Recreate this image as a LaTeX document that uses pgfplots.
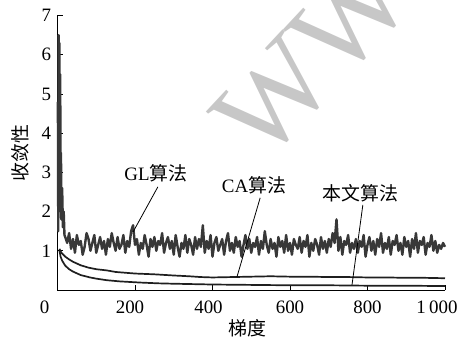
\documentclass[border=0pt]{standalone}
\usepackage{pgfplots}
\pgfplotsset{compat=1.18}
\usepackage{pgfplotstable}
\usepackage{fontspec}
\setmainfont{Liberation Serif}
\newfontfamily\cjk{Noto Sans CJK SC}

\pgfplotstableread{
x y
1 4.8
2 1.5
3 6.5
4 2.0
5 6.3
6 2.5
7 5.5
8 2.0
9 3.5
10 1.8
12 2.6
14 1.6
16 2.0
18 1.4
20 1.35
25 1.20
30 1.45
35 1.05
40 1.30
45 0.95
50 1.40
55 1.15
60 1.25
65 0.90
70 1.10
75 1.45
80 1.30
85 1.00
90 1.20
95 1.40
100 0.95
105 1.15
110 1.35
115 1.05
120 1.25
125 0.90
130 1.30
135 1.10
140 1.45
145 1.20
150 1.00
155 1.35
160 1.05
165 1.15
170 1.40
175 0.95
180 1.25
185 1.10
190 1.50
195 1.65
200 1.15
205 1.30
210 0.90
215 1.20
220 1.05
225 1.40
230 1.15
235 0.85
240 1.30
245 1.10
250 1.35
255 1.00
260 1.25
265 1.15
270 1.45
275 0.95
280 1.20
285 1.35
290 1.05
295 1.25
300 0.90
305 1.40
310 1.10
315 0.85
320 1.20
325 1.05
330 1.40
335 0.95
340 1.30
345 1.15
350 0.90
355 1.35
360 1.05
365 1.30
370 1.10
375 1.65
380 0.95
385 1.25
390 1.05
395 1.40
400 0.85
405 1.20
410 1.35
415 1.00
420 1.15
425 1.30
430 0.90
435 1.25
440 1.45
445 1.00
450 1.20
455 0.95
460 1.35
465 1.10
470 1.25
475 0.85
480 1.15
485 1.40
490 1.05
495 1.30
500 0.95
505 1.20
510 1.10
515 1.35
520 0.90
525 1.25
530 1.05
535 1.50
540 1.15
545 0.95
550 1.30
555 1.05
560 1.20
565 0.85
570 1.35
575 1.10
580 1.25
585 0.95
590 1.40
595 1.00
600 1.20
605 0.90
610 1.30
615 1.15
620 1.05
625 1.35
630 0.95
635 1.25
640 1.10
645 1.40
650 0.85
655 1.20
660 1.00
665 1.30
670 1.15
675 0.90
680 1.35
685 1.05
690 1.25
695 0.95
700 1.30
705 1.10
710 1.45
715 1.20
720 1.80
725 1.00
730 1.35
735 0.90
740 1.25
745 1.15
750 1.40
755 0.95
760 1.20
765 1.05
770 1.30
775 0.95
780 1.25
785 1.10
790 1.40
795 0.85
800 1.15
805 1.35
810 1.00
815 1.25
820 0.90
825 1.30
830 1.10
835 1.45
840 0.95
845 1.20
850 1.05
855 1.35
860 0.90
865 1.25
870 1.15
875 1.40
880 1.00
885 1.20
890 0.90
895 1.35
900 1.10
905 1.25
910 0.85
915 1.30
920 1.05
925 1.45
930 0.95
935 1.25
940 1.15
945 1.35
950 0.90
955 1.20
960 1.10
965 1.40
970 1.00
975 1.25
980 0.95
985 1.15
990 1.05
995 1.20
1000 1.10
}\GLdata

\pgfplotstableread{
x y
5 1.05
10 0.95
15 0.90
20 0.85
30 0.78
40 0.72
60 0.63
80 0.57
100 0.53
127 0.50
150 0.46
200 0.42
250 0.40
300 0.37
340 0.35
370 0.33
400 0.32
450 0.33
500 0.34
550 0.35
600 0.34
650 0.34
700 0.33
750 0.33
800 0.32
850 0.32
900 0.31
950 0.31
1000 0.30
}\CAdata

\pgfplotstableread{
x y
5 1.00
8 0.85
12 0.75
15 0.70
20 0.62
30 0.53
40 0.47
60 0.38
84 0.32
100 0.29
127 0.25
160 0.22
213 0.19
260 0.17
300 0.16
400 0.14
500 0.13
600 0.12
700 0.12
800 0.11
900 0.11
1000 0.10
}\OURdata

\begin{document}
\begin{tikzpicture}
\useasboundingbox (-57.5bp,-51bp) rectangle (408.5bp,290bp);
\node[text=black!22, rotate=47, anchor=base west, inner sep=0pt, font={\fontsize{120}{120}\selectfont}] at (206bp,124bp) {WWW};
\begin{axis}[
  at={(0,0)}, anchor=south west,
  scale only axis, width=387.5bp, height=274.5bp,
  xmin=0, xmax=1000, ymin=0, ymax=7,
  axis x line*=bottom, axis y line*=left,
  axis line style={-, line width=0.8bp},
  tick align=inside, major tick length=5bp,
  tick style={line width=0.8bp, black},
  xtick={0,200,400,600,800,1000},
  xticklabels={{\hspace*{-26bp}0},{\hspace*{-10bp}200},{\hspace*{-8bp}400},600,800,{\hspace*{-16bp}1\,000}},
  ytick={1,2,3,4,5,6,7},
  /pgf/number format/assume math mode=true,
  tick label style={font=\fontsize{19}{21}\selectfont},
  xticklabel style={yshift=-7bp},
  yticklabel style={xshift=-3bp},
  xlabel={\cjk 梯度},
  ylabel={\cjk 收敛性},
  label style={font=\fontsize{19}{21}\selectfont},
  xlabel style={at={(axis description cs:0.49,0)}, anchor=center, yshift=-38bp},
  ylabel style={at={(axis description cs:0,0.5)}, anchor=center, yshift=37bp},
  clip=false,
]
\addplot[black!78, line width=2.4bp, line join=round] table[x=x,y=y] {\GLdata};
\addplot[black!88, line width=1.7bp, line join=round] table[x=x,y=y] {\CAdata};
\addplot[black!88, line width=1.7bp, line join=round] table[x=x,y=y] {\OURdata};
\node[font=\fontsize{19}{21}\selectfont] at (axis cs:254,2.98) {GL{\cjk 算法}};
\node[font=\fontsize{19}{21}\selectfont] at (axis cs:507,2.68) {CA{\cjk 算法}};
\node[font=\fontsize{19}{21}\selectfont] at (axis cs:781,2.47) {\cjk 本文算法};
\draw[line width=0.8bp] (axis cs:259,2.63) -- (axis cs:195,1.48);
\draw[line width=0.8bp] (axis cs:523,2.35) -- (axis cs:463,0.33);
\draw[line width=0.8bp] (axis cs:788,2.17) -- (axis cs:760,0.13);
\end{axis}
\end{tikzpicture}
\end{document}
